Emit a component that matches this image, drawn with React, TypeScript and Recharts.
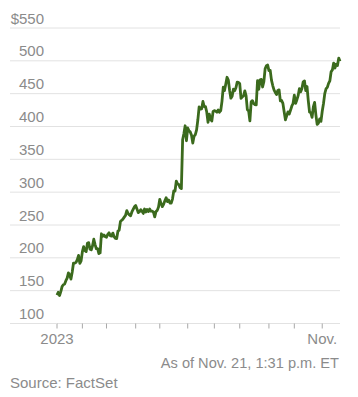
import { LineChart, Line, XAxis, YAxis, CartesianGrid } from "recharts";

// daily closes, [day, close]
const jan: [number, number][] = [[3,143.15],[4,147.49],[5,142.65],[6,148.59],[9,156.28],[10,159.09],[11,160.01],[12,165.11],[13,168.99],[17,177.02],[18,173.77],[19,167.65],[20,178.39],[23,192.05],[24,191.84],[25,193.12],[26,197.38],[27,203.65],[30,191.52],[31,195.37]];
const feb: [number, number][] = [[1,209.43],[2,217.05],[3,211.0],[6,209.52],[7,222.57],[8,223.03],[9,213.14],[10,212.21],[13,218.38],[14,228.32],[15,220.18],[16,213.88],[17,213.97],[21,206.55],[22,207.55],[23,236.64],[24,232.86],[27,234.92],[28,232.16]];
const mar: [number, number][] = [[1,231.43],[2,235.78],[3,238.15],[6,233.88],[7,233.1],[8,237.7],[9,232.23],[10,229.64],[13,229.22],[14,240.63],[15,242.28],[16,255.41],[17,257.25],[20,259.0],[21,261.99],[22,264.68],[23,271.91],[24,267.79],[27,265.33],[28,264.1],[29,269.84],[30,273.83],[31,277.77]];
const apr: [number, number][] = [[3,279.65],[4,274.53],[5,268.81],[6,270.37],[10,273.31],[11,271.04],[12,267.64],[13,274.39],[14,269.8],[17,273.74],[18,270.35],[19,274.26],[20,271.04],[21,271.04],[24,269.52],[25,262.41],[26,270.42],[27,272.26],[28,277.49]];
const may: [number, number][] = [[1,289.1],[2,282.68],[3,277.96],[4,281.59],[5,286.76],[8,291.51],[9,285.71],[10,287.96],[11,283.4],[12,283.4],[15,289.52],[16,301.78],[17,301.78],[18,316.78],[19,312.64],[22,311.76],[23,306.88],[24,305.38],[25,379.8],[26,389.46],[30,401.11],[31,378.34]];
const jun: [number, number][] = [[1,397.7],[2,393.27],[5,391.71],[6,386.54],[7,374.75],[8,385.1],[9,387.7],[12,394.82],[13,410.22],[14,429.97],[15,426.53],[16,426.92],[20,438.08],[21,430.45],[22,430.25],[23,422.09],[26,406.32],[27,418.76],[28,411.17],[29,408.22],[30,423.02]];
const jul: [number, number][] = [[3,424.13],[5,423.28],[6,421.8],[7,425.03],[10,421.8],[11,424.05],[12,438.3],[13,459.77],[14,454.69],[17,464.61],[18,474.94],[19,470.77],[20,455.2],[21,443.09],[24,446.12],[25,456.79],[26,454.52],[27,459.0],[28,467.5],[31,467.29]];
const aug: [number, number][] = [[1,465.07],[2,442.69],[3,445.15],[4,446.8],[7,454.17],[8,446.64],[9,425.54],[10,423.88],[11,408.55],[14,437.53],[15,439.4],[16,434.86],[17,433.44],[18,432.99],[21,469.67],[22,456.68],[23,471.16],[24,471.63],[25,460.18],[28,468.35],[29,487.84],[30,492.64],[31,493.55]];
const sep: [number, number][] = [[1,485.09],[5,485.48],[6,470.61],[7,462.41],[8,455.72],[11,451.78],[12,448.7],[13,454.85],[14,455.81],[15,439.0],[18,439.66],[19,435.2],[20,422.39],[21,410.17],[22,416.1],[25,422.22],[26,419.11],[27,424.68],[28,430.89],[29,434.99]];
const oct: [number, number][] = [[2,447.82],[3,435.17],[4,440.41],[5,446.88],[6,457.62],[9,452.73],[10,457.98],[11,468.06],[12,469.45],[13,454.61],[16,460.95],[17,439.38],[18,421.96],[19,421.01],[20,413.87],[23,429.75],[24,436.63],[25,417.79],[26,403.26],[27,405.0],[30,411.61],[31,407.8]];
const nov: [number, number][] = [[1,423.25],[2,435.06],[3,450.05],[6,457.51],[7,459.55],[8,465.74],[9,469.5],[10,483.35],[13,486.2],[14,496.56],[15,488.88],[16,494.8],[17,492.98],[20,504.09],[21,499.44]];

const monthNames = ["Jan", "Feb", "Mar", "Apr", "May", "Jun", "Jul", "Aug", "Sep", "Oct", "Nov"];
const months = [jan, feb, mar, apr, may, jun, jul, aug, sep, oct, nov];
const monthLabels: Record<string, string> = { Jan: "2023", Nov: "Nov." };
const yTicks = [100, 150, 200, 250, 300, 350, 400, 450, 500, 550];

const data = months.flatMap((m, i) =>
  m.map(([d, close]) => ({ date: `${monthNames[i]} ${d}`, close }))
);
const monthStarts = months.map((m, i) => `${monthNames[i]} ${m[0][0]}`);

const FONT = "'Liberation Sans', Arial, sans-serif";
const TEXT = "#8b8b8b";
const GRID = "#e2e2e2";

const YTick = (props: any) => {
  const { y, payload } = props;
  const v = payload.value;
  return (
    <g>
      <line x1={10} x2={57} y1={y} y2={y} stroke={GRID} />
      <text x={44} y={y - 4.5} textAnchor="end" fill={TEXT} fontSize={15} fontFamily={FONT}>
        {v === 550 ? "$550" : v}
      </text>
    </g>
  );
};

const XTick = (props: any) => {
  const { x, y, payload } = props;
  const label = monthLabels[String(payload.value).split(" ")[0]] ?? "";
  return (
    <text x={x} y={y + 15} textAnchor="middle" fill={TEXT} fontSize={15} fontFamily={FONT}>
      {label}
    </text>
  );
};

export default function App() {
  return (
    <div style={{ position: "absolute", left: 0, top: 0, width: 358, height: 397, background: "#fff" }}>
      <LineChart
        width={358}
        height={397}
        data={data}
        margin={{ top: 28, right: 18, left: 10, bottom: 43.5 }}
      >
        <CartesianGrid vertical={false} stroke={GRID} />
        <XAxis
          dataKey="date"
          ticks={monthStarts}
          interval={0}
          height={30}
          tickSize={5}
          tickMargin={0}
          axisLine={{ stroke: GRID }}
          tickLine={{ stroke: "#a8a8a8" }}
          tick={<XTick />}
        />
        <YAxis
          width={47}
          domain={[100, 550]}
          ticks={yTicks}
          axisLine={false}
          tickLine={false}
          tick={<YTick />}
        />
        <Line
          type="linear"
          dataKey="close"
          stroke="#3b6a1d"
          strokeWidth={2.8}
          strokeLinejoin="round"
          dot={false}
          isAnimationActive={false}
        />
      </LineChart>
      <svg width={358} height={397} style={{ position: "absolute", left: 0, top: 0, pointerEvents: "none" }}>
        <text x={339} y={368} textAnchor="end" fill={TEXT} fontSize={14.6} fontFamily={FONT}>
          As of Nov. 21, 1:31 p.m. ET
        </text>
        <text x={10} y={388} fill={TEXT} fontSize={15} fontFamily={FONT}>
          Source: FactSet
        </text>
      </svg>
    </div>
  );
}
